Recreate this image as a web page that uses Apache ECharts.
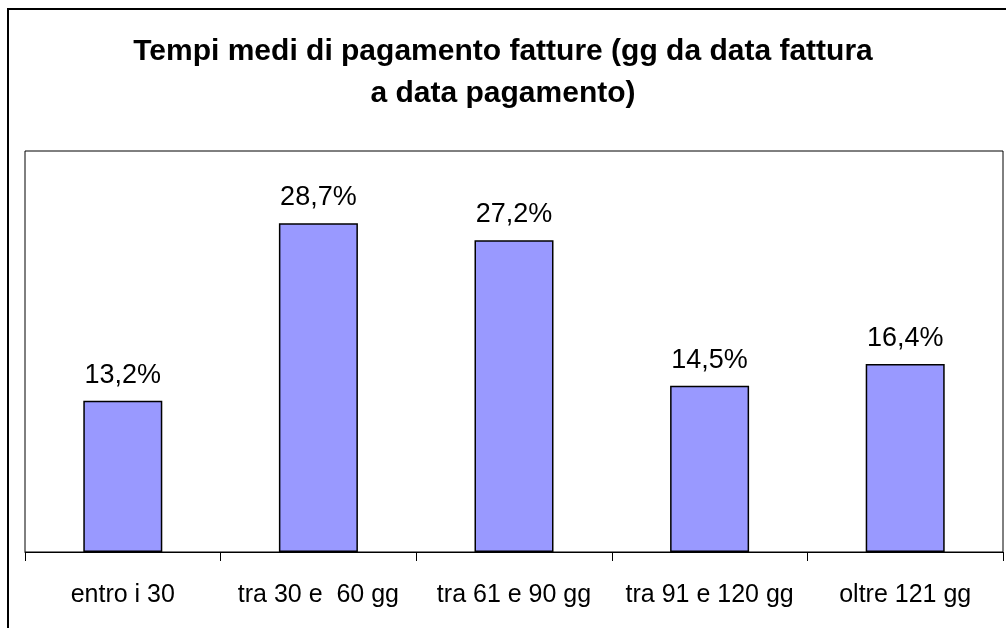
<!DOCTYPE html>
<html>
<head>
<meta charset="utf-8">
<script src="https://cdn.jsdelivr.net/npm/echarts@6/dist/echarts.min.js"></script>
<style>
  html, body { margin: 0; padding: 0; background: #fff; }
  #chart { width: 1006px; height: 628px; }
</style>
</head>
<body>
<div id="chart"></div>
<script>
const categories = ["entro i 30", "tra 30 e  60 gg", "tra 61 e 90 gg", "tra 91 e 120 gg", "oltre 121 gg"];
const values = [13.2, 28.7, 27.2, 14.5, 16.4];
const titleText = "Tempi medi di pagamento fatture (gg da data fattura\na data pagamento)";

const font = "'Liberation Sans', Arial, sans-serif";
const chart = echarts.init(document.getElementById("chart"));
chart.setOption({
  animation: false,
  backgroundColor: "#fff",
  textStyle: { fontFamily: font },
  title: {
    text: titleText,
    left: "center",
    top: 31,
    padding: 0,
    textStyle: {
      fontSize: 30,
      fontWeight: "bold",
      fontFamily: font,
      color: "#000",
      lineHeight: 42,
      align: "center",
    },
  },
  graphic: [
    {
      type: "rect",
      shape: { x: 8, y: 9, width: 1020, height: 660 },
      style: { fill: "none", stroke: "#000", lineWidth: 2 },
      silent: true,
    },
  ],
  grid: {
    left: 25,
    top: 151,
    right: 3,
    bottom: 76,
    show: true,
    borderColor: "#000",
    borderWidth: 1,
    backgroundColor: "#fff",
  },
  xAxis: {
    type: "category",
    data: categories,
    boundaryGap: true,
    axisLine: { lineStyle: { color: "#000", width: 1 } },
    axisTick: { show: true, length: 9, lineStyle: { color: "#000" } },
    axisLabel: {
      color: "#000",
      fontSize: 25,
      margin: 31,
      interval: 0,
    },
  },
  yAxis: {
    type: "value",
    min: 0,
    max: 35,
    show: false,
    splitLine: { show: false },
  },
  series: [
    {
      type: "bar",
      data: values,
      barWidth: 79,
      itemStyle: { color: "#9999FF", borderColor: "#000", borderWidth: 1.5 },
      label: {
        show: true,
        position: "top",
        distance: 12,
        fontSize: 27,
        color: "#000",
        formatter: (p) => p.value.toFixed(1).replace(".", ",") + "%",
      },
    },
  ],
});
</script>
</body>
</html>
